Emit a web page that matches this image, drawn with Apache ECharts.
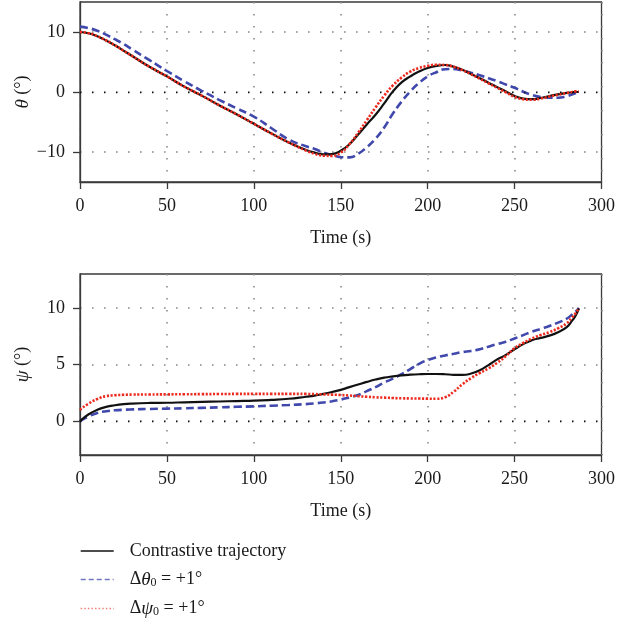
<!DOCTYPE html>
<html>
<head>
<meta charset="utf-8">
<script src="https://cdn.jsdelivr.net/npm/echarts@6/dist/echarts.min.js"></script>
<style>
html,body{margin:0;padding:0;background:#fff;}
#chart{width:618px;height:629px;}
</style>
</head>
<body>
<div id="chart"></div>
<script>
// ---- data ----
const time = [0,5,10,15,20,25,30,40,50,60,70,80,90,100,110,120,130,135,140,145,150,155,160,165,170,175,180,185,190,195,200,205,210,215,220,225,230,235,240,245,250,255,260,265,270,275,280,283,285,287];

const thetaContrast = [10,9.8,9.3,8.6,7.8,6.9,6.0,4.2,2.6,0.9,-0.6,-2.2,-3.7,-5.3,-6.9,-8.4,-9.65,-10.1,-10.4,-10.35,-9.8,-8.7,-7.1,-5.4,-3.8,-1.9,0.1,1.6,2.6,3.4,4.0,4.35,4.5,4.2,3.7,3.0,2.3,1.55,0.8,0.1,-0.65,-1.1,-1.2,-1.0,-0.67,-0.4,-0.15,-0.05,0.0,0.0];
const thetaDTheta = [10.9,10.65,10.2,9.55,8.8,8.0,7.1,5.3,3.5,1.8,0.2,-1.3,-2.7,-4.1,-6.0,-7.9,-9.05,-9.5,-10.1,-10.5,-10.85,-10.9,-10.3,-9.2,-7.8,-5.9,-3.6,-1.6,0.1,1.5,2.6,3.3,3.8,3.85,3.55,3.2,2.8,2.3,1.8,1.25,0.7,0.05,-0.5,-0.85,-0.95,-0.95,-0.7,-0.4,-0.2,0.0];
const thetaDPsi = [10,9.8,9.3,8.6,7.8,6.9,6.0,4.2,2.6,0.9,-0.6,-2.2,-3.7,-5.3,-6.9,-8.4,-9.75,-10.3,-10.6,-10.65,-10.1,-8.7,-6.8,-4.7,-2.6,-0.6,1.1,2.4,3.4,4.0,4.35,4.55,4.5,4.2,3.65,2.95,2.2,1.45,0.7,-0.05,-0.8,-1.2,-1.3,-1.1,-0.75,-0.45,-0.15,0.0,0.1,0.1];

const psiContrast = [0,0.6,1.0,1.25,1.4,1.5,1.55,1.6,1.62,1.66,1.7,1.73,1.77,1.8,1.87,1.97,2.15,2.25,2.4,2.57,2.76,3.0,3.23,3.46,3.67,3.84,3.95,4.04,4.1,4.14,4.16,4.16,4.14,4.09,4.08,4.2,4.5,4.95,5.45,5.85,6.35,6.8,7.15,7.35,7.55,7.85,8.3,8.85,9.3,9.95];
const psiDTheta = [0,0.42,0.72,0.87,0.95,1.0,1.03,1.07,1.1,1.13,1.17,1.21,1.26,1.3,1.36,1.42,1.5,1.56,1.64,1.75,1.9,2.1,2.3,2.65,3.0,3.4,3.75,4.15,4.6,5.05,5.4,5.62,5.8,5.95,6.1,6.2,6.35,6.58,6.8,7.02,7.3,7.6,7.9,8.15,8.4,8.7,9.05,9.4,9.65,10];
const psiDPsi = [1.0,1.55,1.95,2.2,2.28,2.32,2.34,2.35,2.36,2.37,2.38,2.39,2.4,2.4,2.4,2.4,2.4,2.38,2.36,2.34,2.3,2.26,2.2,2.15,2.1,2.07,2.04,2.01,2.0,1.99,1.98,1.97,2.1,2.6,3.25,3.8,4.25,4.65,5.15,5.75,6.45,6.9,7.3,7.6,7.85,8.2,8.65,9.15,9.5,10];

const xTicks = [0,50,100,150,200,250,300];
const thetaTicks = [-10,0,10];
const psiTicks = [0,5,10];

const seriesNames = ['Contrastive trajectory', 'Δθ0 = +1°', 'Δψ0 = +1°'];

// ---- styles ----
const FONT = 'Liberation Serif';
const C_BLACK = '#111111';
const C_BLUE = '#4048ac';
const C_RED = '#ec2a1e';
const AX = '#3a3a3a';

function pairs(vals){ return time.map((t,i)=>[t, vals[i]]); }

function xAxisCfg(gridIndex){
  return {
    type:'value', gridIndex, min:0, max:300, interval:50,
    name:'Time (s)', nameLocation:'middle', nameGap:47,
    nameTextStyle:{fontFamily:FONT, fontSize:18, color:'#1a1a1a'},
    axisLine:{show:true, onZero:false, lineStyle:{color:AX, width:1.3}},
    axisTick:{show:true, inside:false, length:7, lineStyle:{color:AX, width:1.3}},
    axisLabel:{fontFamily:FONT, fontSize:18, color:'#1a1a1a', margin:15},
    splitLine:{show:true, lineStyle:{color:'#8a8a8a', width:1.6, type:[1.6,10.4]}}
  };
}
function yAxisCfg(gridIndex, min, max, ticks, sym){
  return {
    type:'value', gridIndex, min, max,
    name:'{i|'+sym+'} (°)', nameLocation:'middle', nameGap:48, nameRotate:90,
    nameMoveOverlap:false,
    nameTextStyle:{fontFamily:FONT, fontSize:18, color:'#1a1a1a',
      rich:{i:{fontFamily:FONT, fontSize:19, fontStyle:'italic', color:'#1a1a1a'}}},
    axisLine:{show:true, onZero:false, lineStyle:{color:AX, width:1.3}},
    axisTick:{show:true, inside:false, length:7, customValues:ticks, lineStyle:{color:AX, width:1.3}},
    axisLabel:{fontFamily:FONT, fontSize:18, color:'#1a1a1a', margin:15, customValues:ticks,
      formatter:v=> v<0 ? '\u2212'+Math.abs(v) : String(v)},
    splitLine:{show:true, lineStyle:{color:'#8a8a8a', width:1.6, type:[1.6,10.4]}}
  };
}
function zeroLine(){
  return {silent:true, symbol:['none','none'], label:{show:false},
    lineStyle:{color:'#111', width:1.4, type:[1.4,10.6]}, data:[{yAxis:0}]};
}
function mkSeries(name, vals, gi, color, width, type, z, withZero){
  const s = {
    name, type:'line', xAxisIndex:gi, yAxisIndex:gi, data:pairs(vals),
    showSymbol:false, symbol:'none', smooth:0.5, z,
    lineStyle:{color, width, type, cap:'butt'}, itemStyle:{color},
    emphasis:{disabled:true}, animation:false
  };
  if (withZero) s.markLine = zeroLine();
  return s;
}

const chart = echarts.init(document.getElementById('chart'), null, {renderer:'canvas'});
chart.setOption({
  backgroundColor:'#ffffff',
  animation:false,
  grid:[
    {left:80, right:16, top:2, bottom:447, show:true, borderColor:AX, borderWidth:1.3, backgroundColor:'transparent'},
    {left:80, right:16, top:274, bottom:174, show:true, borderColor:AX, borderWidth:1.3, backgroundColor:'transparent'}
  ],
  xAxis:[xAxisCfg(0), xAxisCfg(1)],
  yAxis:[yAxisCfg(0,-15,15,thetaTicks,'θ'), yAxisCfg(1,-3,13,psiTicks,'ψ')],
  legend:{
    orient:'vertical', left:80, top:542, itemWidth:33, itemHeight:12, itemGap:10,
    padding:0, selectedMode:false,
    itemStyle:{opacity:0},
    data:[
      {name:seriesNames[0], lineStyle:{width:1.4}, itemStyle:{opacity:0}},
      {name:seriesNames[1], lineStyle:{width:1.4, color:'#7077c4', type:[5,3]}, itemStyle:{opacity:0}},
      {name:seriesNames[2], lineStyle:{width:1.4, color:'#f07a70', type:[1.4,2.2]}, itemStyle:{opacity:0}}
    ],
    textStyle:{fontFamily:FONT, fontSize:18, color:'#1a1a1a', padding:[0,0,0,11],
      rich:{
        n:{fontFamily:FONT, fontSize:18, color:'#1a1a1a'},
        i:{fontFamily:FONT, fontSize:19, fontStyle:'italic', color:'#1a1a1a'},
        s:{fontFamily:FONT, fontSize:12, color:'#1a1a1a', padding:[7,0,0,0]}
      }},
    formatter:function(name){
      if (name === seriesNames[0]) return '{n|Contrastive trajectory}';
      if (name === seriesNames[1]) return '{n|Δ}{i|θ}{s|0}{n| = +1°}';
      return '{n|Δ}{i|ψ}{s|0}{n| = +1°}';
    }
  },
  series:[
    mkSeries(seriesNames[0], thetaContrast, 0, C_BLACK, 2.2, 'solid', 3, true),
    mkSeries(seriesNames[1], thetaDTheta, 0, C_BLUE, 2.6, [8,4], 2, false),
    mkSeries(seriesNames[2], thetaDPsi, 0, C_RED, 2.6, [2.2,1.6], 4, false),
    mkSeries(seriesNames[0], psiContrast, 1, C_BLACK, 2.2, 'solid', 3, true),
    mkSeries(seriesNames[1], psiDTheta, 1, C_BLUE, 2.6, [8,4], 2, false),
    mkSeries(seriesNames[2], psiDPsi, 1, C_RED, 2.6, [2.2,1.6], 4, false)
  ]
});
</script>
</body>
</html>
